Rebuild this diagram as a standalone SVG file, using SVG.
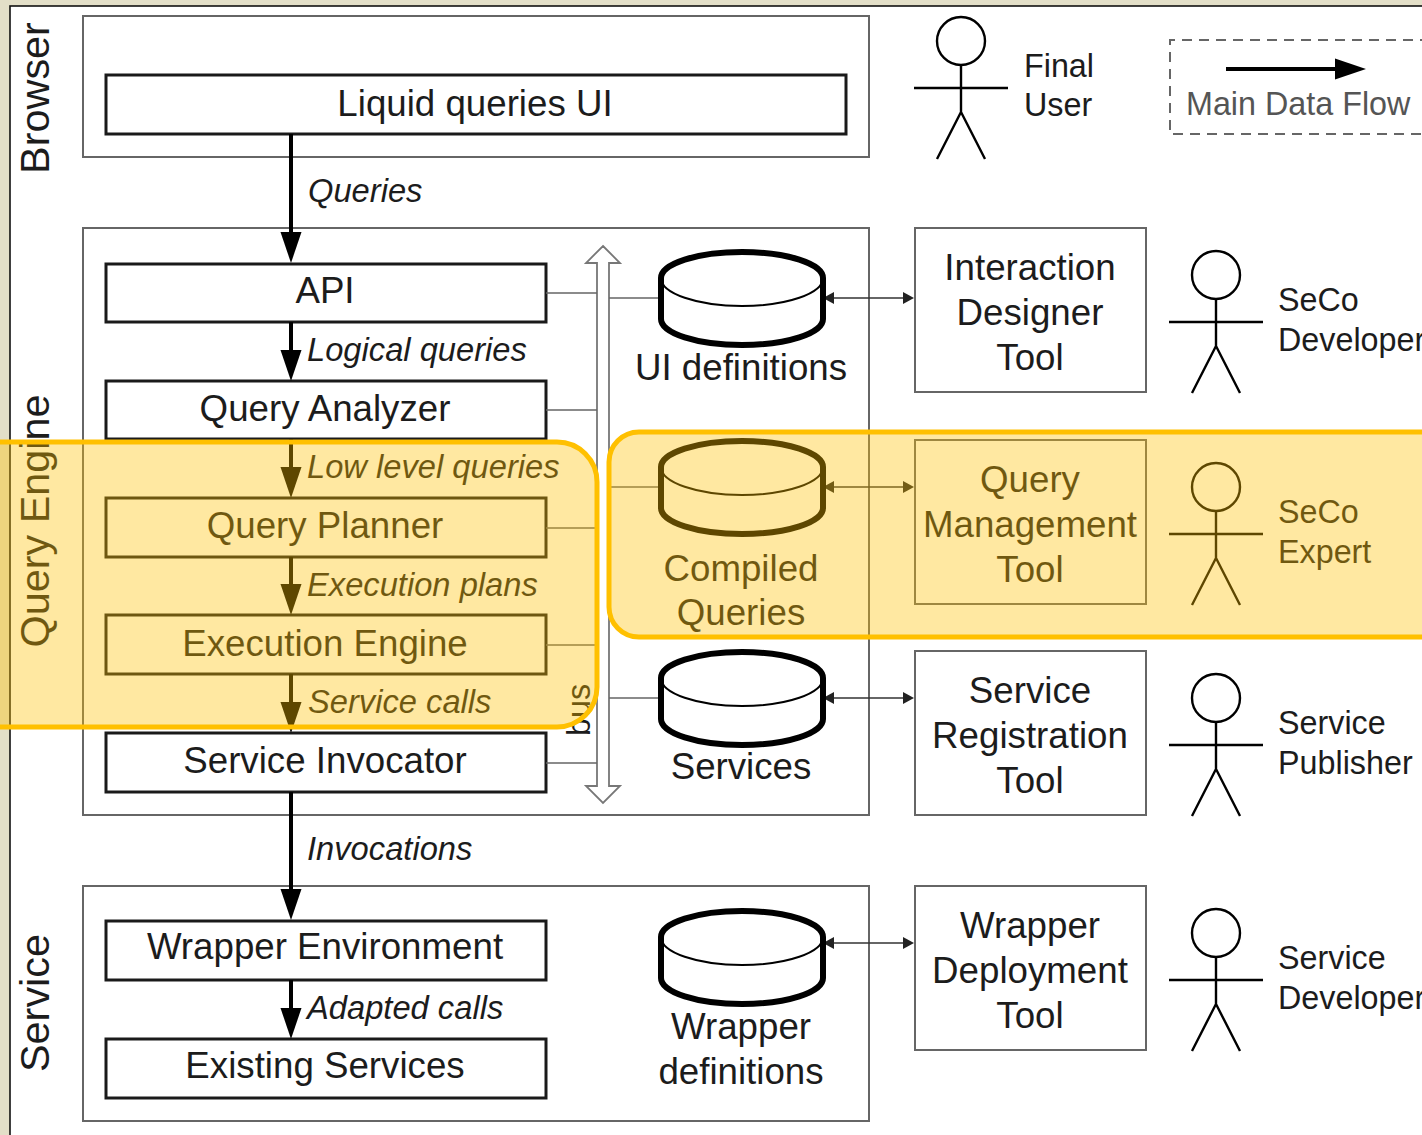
<svg xmlns="http://www.w3.org/2000/svg" width="1422" height="1135" viewBox="0 0 1422 1135">
<style>
text{font-family:"Liberation Sans",Arial,sans-serif;fill:#1c1c1c}
.l{font-size:36.7px;text-anchor:middle}
.i{font-size:32.7px;font-style:italic}
.a{font-size:32.3px}
.s{font-size:41.4px;text-anchor:middle}
.box{fill:#fff;stroke:#1a1a1a;stroke-width:3}
.thin{fill:none;stroke:#666;stroke-width:2}
.tool{fill:#fff;stroke:#666;stroke-width:2}
.flow{stroke:#000;stroke-width:4;fill:none;marker-end:url(#big)}
.br{stroke:#666;stroke-width:1.6;fill:none}
.dbl{stroke:#333;stroke-width:1.6;fill:none;marker-start:url(#small);marker-end:url(#small)}
.cyl{fill:#fff;stroke:#000;stroke-width:6;stroke-linejoin:round}
.cyli{fill:none;stroke:#000;stroke-width:2}
.act{fill:none;stroke:#000;stroke-width:2.4}
.hl{fill:#ffc000;fill-opacity:.37;stroke:#ffc000;stroke-width:5}
</style>
<defs>
<marker id="big" markerUnits="userSpaceOnUse" markerWidth="31" markerHeight="22" viewBox="0 0 31 22" refX="15" refY="11" orient="auto"><path d="M0 0.5L31 11L0 21.5Z" fill="#000"/></marker>
<marker id="small" markerUnits="userSpaceOnUse" markerWidth="12" markerHeight="14" viewBox="0 0 12 14" refX="0" refY="7" orient="auto-start-reverse"><path d="M0 1L11 7L0 13Z" fill="#222"/></marker>
<g id="cylshape"><path class="cyl" d="M661 278A81 26 0 0 1 823 278V319A81 26 0 0 1 661 319Z"/><path class="cyli" d="M661 278A81 28 0 0 0 823 278"/></g>
<g id="actor"><circle class="act" cx="0" cy="0" r="24"/><path class="act" d="M0 24V71L-24 118M0 71L24 118M-47 47H47"/></g>
</defs>
<rect width="1422" height="1135" fill="#e3dfc8"/>
<rect x="10" y="6" width="1420" height="1140" fill="#fff" stroke="#111" stroke-width="1.6"/>
<g id="layer-labels">
<text class="s" transform="translate(49 98) rotate(-90)">Browser</text>
<text class="s" transform="translate(49 521) rotate(-90)">Query Engine</text>
<text class="s" transform="translate(49 1003) rotate(-90)">Service</text>
</g>
<g id="layer-browser"><rect class="thin" x="83" y="16" width="786" height="141"/></g>
<g id="layer-engine"><rect class="thin" x="83" y="228" width="786" height="587"/></g>
<g id="layer-service"><rect class="thin" x="83" y="886" width="786" height="235"/></g>
<g id="liquid-ui"><rect class="box" x="106" y="75" width="740" height="59"/><text class="l" x="475" y="116">Liquid queries UI</text></g>
<g id="api"><rect class="box" x="106" y="264" width="440" height="58"/><text class="l" x="325" y="303">API</text></g>
<g id="query-analyzer"><rect class="box" x="106" y="381" width="440" height="58"/><text class="l" x="325" y="421">Query Analyzer</text></g>
<g id="query-planner"><rect class="box" x="106" y="498" width="440" height="59"/><text class="l" x="325" y="538">Query Planner</text></g>
<g id="execution-engine"><rect class="box" x="106" y="615" width="440" height="59"/><text class="l" x="325" y="656">Execution Engine</text></g>
<g id="service-invocator"><rect class="box" x="106" y="733" width="440" height="59"/><text class="l" x="325" y="773">Service Invocator</text></g>
<g id="wrapper-environment"><rect class="box" x="106" y="921" width="440" height="59"/><text class="l" x="325" y="959">Wrapper Environment</text></g>
<g id="existing-services"><rect class="box" x="106" y="1039" width="440" height="59"/><text class="l" x="325" y="1078">Existing Services</text></g>
<g id="bus"><path d="M603 246L620 263H609V786H620L603 803L586 786H597V263H586Z" fill="#fff" stroke="#777" stroke-width="1.800"/><text class="a" transform="translate(590 710) rotate(-90)" text-anchor="middle">bus</text></g>
<g id="connectors">
<path class="flow" d="M291 134V247"/>
<path class="flow" d="M291 322V365"/>
<path class="flow" d="M291 439V482"/>
<path class="flow" d="M291 557V599"/>
<path class="flow" d="M291 674V717"/>
<path class="flow" d="M291 792V904"/>
<path class="flow" d="M291 980V1023"/>
<path class="br" d="M546 293H597M546 410H597M546 528H597M546 645H597M546 763H597M609 298H661M609 487H661M609 698H661"/>
<path class="dbl" d="M834 298H903"/>
<path class="dbl" d="M834 487H903"/>
<path class="dbl" d="M834 698H903"/>
<path class="dbl" d="M834 943H903"/>
</g>
<g id="flow-labels">
<text class="i" x="308" y="202">Queries</text>
<text class="i" x="307" y="361">Logical queries</text>
<text class="i" x="307" y="478">Low level queries</text>
<text class="i" x="307" y="596">Execution plans</text>
<text class="i" x="308" y="713">Service calls</text>
<text class="i" x="307" y="860">Invocations</text>
<text class="i" x="307" y="1019">Adapted calls</text>
</g>
<g id="ui-definitions"><use href="#cylshape"/><text class="l" x="741" y="380">UI definitions</text></g>
<g id="compiled-queries"><use href="#cylshape" y="189"/><text class="l" x="741" y="581">Compiled</text><text class="l" x="741" y="625">Queries</text></g>
<g id="services"><use href="#cylshape" y="400"/><text class="l" x="741" y="779">Services</text></g>
<g id="wrapper-definitions"><use href="#cylshape" y="659"/><text class="l" x="741" y="1039">Wrapper</text><text class="l" x="741" y="1084">definitions</text></g>
<g id="interaction-tool"><rect class="tool" x="915" y="228" width="231" height="164"/><text class="l" x="1030" y="280">Interaction</text><text class="l" x="1030" y="325">Designer</text><text class="l" x="1030" y="370">Tool</text></g>
<g id="query-tool"><rect class="tool" x="915" y="440" width="231" height="164"/><text class="l" x="1030" y="492">Query</text><text class="l" x="1030" y="537">Management</text><text class="l" x="1030" y="582">Tool</text></g>
<g id="registration-tool"><rect class="tool" x="915" y="651" width="231" height="164"/><text class="l" x="1030" y="703">Service</text><text class="l" x="1030" y="748">Registration</text><text class="l" x="1030" y="793">Tool</text></g>
<g id="deployment-tool"><rect class="tool" x="915" y="886" width="231" height="164"/><text class="l" x="1030" y="938">Wrapper</text><text class="l" x="1030" y="983">Deployment</text><text class="l" x="1030" y="1028">Tool</text></g>
<g id="final-user"><use href="#actor" x="961" y="41"/><text class="a" x="1024" y="77">Final</text><text class="a" x="1024" y="116">User</text></g>
<g id="seco-developer"><use href="#actor" x="1216" y="275"/><text class="a" x="1278" y="311">SeCo</text><text class="a" x="1278" y="351">Developer</text></g>
<g id="seco-expert"><use href="#actor" x="1216" y="487"/><text class="a" x="1278" y="523">SeCo</text><text class="a" x="1278" y="563">Expert</text></g>
<g id="service-publisher"><use href="#actor" x="1216" y="698"/><text class="a" x="1278" y="734">Service</text><text class="a" x="1278" y="774">Publisher</text></g>
<g id="service-developer"><use href="#actor" x="1216" y="933"/><text class="a" x="1278" y="969">Service</text><text class="a" x="1278" y="1009">Developer</text></g>
<g id="legend">
<path d="M1430 40H1170V134H1430" fill="none" stroke="#666" stroke-width="2" stroke-dasharray="10 7"/>
<path class="flow" d="M1226 69H1350"/>
<text class="a" x="1186" y="115" style="fill:#555">Main Data Flow</text>
</g>
<g id="highlights">
<rect class="hl" x="-60" y="442" width="657" height="285" rx="40" ry="40"/>
<rect class="hl" x="609" y="432" width="880" height="205" rx="30" ry="30"/>
</g>
</svg>
